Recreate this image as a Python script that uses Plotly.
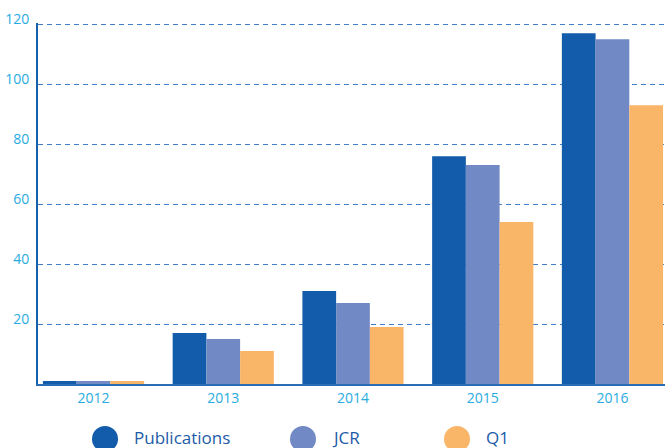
import plotly.graph_objects as go

# Yearly counts
years = ["2012", "2013", "2014", "2015", "2016"]
publications = [1, 17, 31, 76, 117]
jcr = [1, 15, 27, 73, 115]
q1 = [1, 11, 19, 54, 93]
y_ticks = [20, 40, 60, 80, 100, 120]

series = [
    ("Publications", publications, "#135cab"),
    ("JCR", jcr, "#7189c5"),
    ("Q1", q1, "#f9b568"),
]

fig = go.Figure()
for name, vals, color in series:
    fig.add_trace(go.Bar(
        x=years, y=vals, name=name,
        marker=dict(color=color, line=dict(width=0)),
        showlegend=False,
    ))

# Legend drawn below the plot with large round swatches
W, H = 665, 448
m_l, m_r, m_t, m_b = 38, 0, 23, 64
pw, ph = W - m_l - m_r, H - m_t - m_b
legend_dot_px = [105, 303, 457]
legend_y_px = 439

shapes, annotations = [], []
for (name, _, color), cx in zip(series, legend_dot_px):
    xa = (cx - m_l) / pw
    ya = ((H - m_b) - legend_y_px) / ph
    shapes.append(dict(
        type="circle", xref="paper", yref="paper",
        xsizemode="pixel", ysizemode="pixel",
        xanchor=xa, yanchor=ya,
        x0=-13, x1=13, y0=-13, y1=13,
        fillcolor=color, line=dict(width=0),
    ))
    annotations.append(dict(
        text=name, xref="paper", yref="paper",
        x=(cx + 27 - m_l) / pw, y=ya + 1.5 / ph,
        xanchor="left", yanchor="middle", showarrow=False,
        font=dict(family="Open Sans", size=17, color="#1b5ba7"),
    ))

fig.update_layout(
    width=W, height=H,
    margin=dict(l=m_l, r=m_r, t=m_t, b=m_b),
    paper_bgcolor="white", plot_bgcolor="white",
    barmode="group", bargap=0.22, bargroupgap=0,
    shapes=shapes, annotations=annotations,
    font=dict(family="Open Sans", color="#29abe2"),
)

fig.update_xaxes(
    type="category", range=[-0.428, 4.405],
    showgrid=False, showline=True, linecolor="#2a6cb5", linewidth=2,
    ticks="", tickfont=dict(size=14, color="#29abe2"),
    zeroline=False,
)
fig.update_yaxes(
    range=[0, 120.4], tickvals=y_ticks,
    showgrid=True, gridcolor="#3f7fc8", gridwidth=1, griddash="5px,4px",
    showline=True, linecolor="#1560ad", linewidth=2,
    ticks="", ticklabelstandoff=4, ticklabelshift=-5,
    tickfont=dict(size=14, color="#29abe2"),
    zeroline=False,
)

fig.write_html("out.html")
